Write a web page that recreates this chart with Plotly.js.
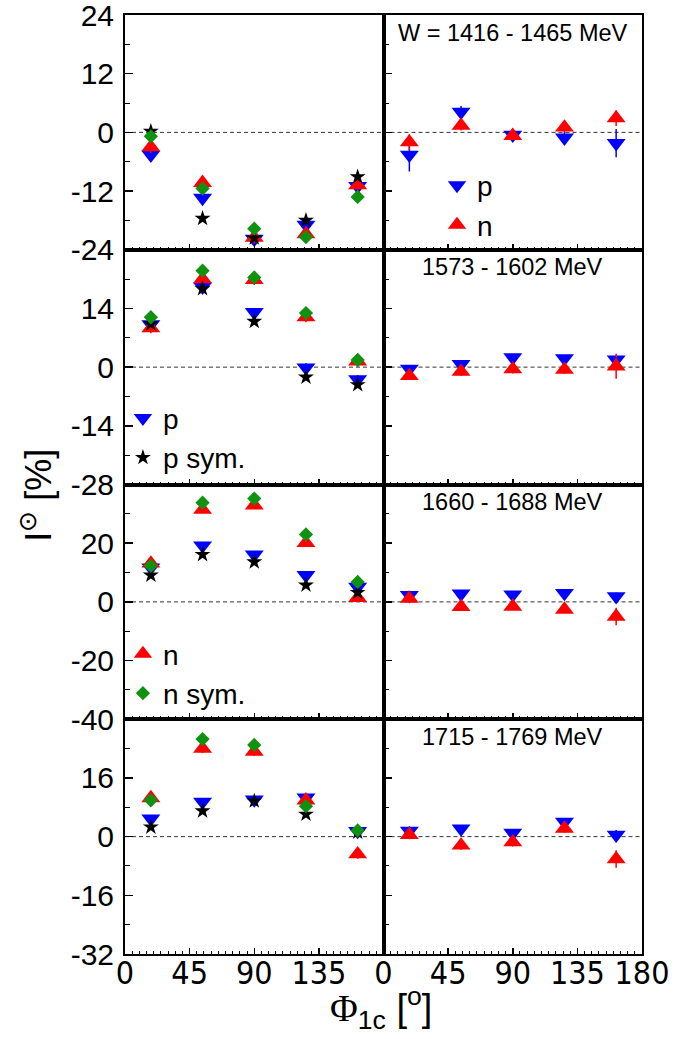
<!DOCTYPE html>
<html>
<head>
<meta charset="utf-8">
<script src="https://cdn.plot.ly/plotly-3.0.1.min.js"></script>
<style>
  html, body { margin: 0; padding: 0; background: #fff; }
  #chart { width: 696px; height: 1039px; }
</style>
</head>
<body>
<div id="chart"></div>
<script>
// Azimuthal angle bins (degrees)
const PHI = [18, 54, 90, 126, 162];

// Energy bin labels (right column)
const BIN_LABELS = ['W = 1416 - 1465 MeV', '1573 - 1602 MeV', '1660 - 1688 MeV', '1715 - 1769 MeV'];

// Left column: p, p sym., n, n sym. (one array per energy bin)
const leftP_1 = [-4.6, -13.4, -21.8, -18.9, -11.0];
const leftN_1 = [-3.0, -10.3, -21.5, -20.8, -10.8];
const leftPSym_1 = [0.2, -17.6, -21.6, -18.0, -9.1];
const leftNSym_1 = [-0.8, -11.5, -19.7, -21.4, -13.2];

const leftP_2 = [10.2, 19.2, 13.1, -0.1, -2.9];
const leftN_2 = [9.3, 21.0, 20.8, 11.9, 1.4];
const leftPSym_2 = [10.3, 18.7, 10.9, -2.4, -4.2];
const leftNSym_2 = [11.9, 23.0, 21.4, 12.9, 1.7];

const leftP_3 = [11.7, 19.2, 16.1, 9.1, 5.1];
const leftN_3 = [13.1, 31.4, 32.9, 20.1, 1.4];
const leftPSym_3 = [9.1, 16.1, 13.6, 5.7, 3.2];
const leftNSym_3 = [12.3, 33.8, 35.2, 23.0, 6.8];

const leftP_4 = [4.9, 9.5, 10.1, 10.6, 1.5];
const leftN_4 = [10.5, 24.0, 23.2, 9.9, -4.8];
const leftPSym_4 = [2.6, 7.0, 9.7, 6.1, 1.2];
const leftNSym_4 = [9.9, 26.6, 25.0, 8.3, 1.7];

// Left column uncertainties
const leftErrP = [1.0, 1.0, 1.0, 1.0, 1.0];
const leftErrN = [1.2, 1.2, 1.2, 1.2, 1.2];

// Right column: p and n
const rightP_1 = [-4.6, 4.2, -0.5, -1.1, -2.2];
const rightN_1 = [-2.0, 1.4, -0.7, 1.0, 2.9];
const rightErrP_1 = [3.4, 1.2, 1.0, 1.2, 2.9];
const rightErrN_1 = [1.6, 1.0, 0.8, 1.0, 1.6];

const rightP_2 = [-0.4, 0.7, 2.3, 2.1, 1.8];
const rightN_2 = [-2.1, -1.1, -0.5, -0.6, 0.2];
const rightErrP_2 = [0.8, 0.8, 0.8, 0.8, 1.0];
const rightErrN_2 = [1.0, 1.0, 1.0, 1.0, 3.0];

const rightP_3 = [2.3, 2.8, 2.5, 3.0, 1.9];
const rightN_3 = [1.1, -1.7, -1.6, -2.6, -5.0];
const rightErrP_3 = [1.5, 1.0, 1.0, 1.0, 1.2];
const rightErrN_3 = [1.2, 1.2, 1.2, 1.2, 3.0];

const rightP_4 = [1.6, 2.2, 1.0, 4.0, 0.5];
const rightN_4 = [0.5, -2.4, -1.5, 2.2, -6.1];
const rightErrP_4 = [1.2, 1.0, 1.0, 1.0, 1.3];
const rightErrN_4 = [1.2, 1.2, 1.2, 1.2, 2.4];

// Y-axis half ranges and tick labels for each row
const Y_RANGE = [24, 28, 40, 32];
const Y_TICKS_1 = [-24, -12, 0, 12, 24];
const Y_TICKS_2 = [-28, -14, 0, 14];
const Y_TICKS_3 = [-40, -20, 0, 20];
const Y_TICKS_4 = [-32, -16, 0, 16];
const Y_TICKTEXT_1 = ['-24', '-12', '0', '12', '24'];
const Y_TICKTEXT_2 = ['-28', '-14', '0', '14'];
const Y_TICKTEXT_3 = ['-40', '-20', '0', '20'];
const Y_TICKTEXT_4 = ['-32', '-16', '0', '16'];
const X_TICKS_LEFT = [0, 45, 90, 135];
const X_TICKS_RIGHT = [0, 45, 90, 135, 180];

const LEFT = [
  {p: leftP_1, n: leftN_1, ps: leftPSym_1, ns: leftNSym_1},
  {p: leftP_2, n: leftN_2, ps: leftPSym_2, ns: leftNSym_2},
  {p: leftP_3, n: leftN_3, ps: leftPSym_3, ns: leftNSym_3},
  {p: leftP_4, n: leftN_4, ps: leftPSym_4, ns: leftNSym_4}
];
const RIGHT = [
  {p: rightP_1, n: rightN_1, ep: rightErrP_1, en: rightErrN_1},
  {p: rightP_2, n: rightN_2, ep: rightErrP_2, en: rightErrN_2},
  {p: rightP_3, n: rightN_3, ep: rightErrP_3, en: rightErrN_3},
  {p: rightP_4, n: rightN_4, ep: rightErrP_4, en: rightErrN_4}
];
const Y_TICKS = [Y_TICKS_1, Y_TICKS_2, Y_TICKS_3, Y_TICKS_4];
const Y_TICKTEXT = [Y_TICKTEXT_1, Y_TICKTEXT_2, Y_TICKTEXT_3, Y_TICKTEXT_4];

const BLUE = '#0000ff', RED = '#ff0000', GREEN = '#0f920f', BLACK = '#000000';
const SANS = '"Liberation Sans", Arial, sans-serif';
const NARROW = '"Liberation Sans Narrow", "Arial Narrow", "DejaVu Sans Condensed", sans-serif';
const TRI = 16.5;

function series(x, y, err, color, symbol, size, xa, ya, name, legend) {
  const t = {
    x: x, y: y, type: 'scatter', mode: 'markers',
    xaxis: xa, yaxis: ya, name: name,
    marker: {color: color, symbol: symbol, size: size, line: {width: 0}},
    showlegend: !!legend, hoverinfo: 'skip'
  };
  if (err) t.error_y = {type: 'data', array: err, visible: true, color: color, thickness: 1.5, width: 0};
  if (legend) { t.legend = legend; t.legendgroup = legend + name; }
  return t;
}

const traces = [];
const layout = {
  width: 696, height: 1039,
  margin: {l: 125, r: 54, t: 15, b: 85},
  paper_bgcolor: '#ffffff', plot_bgcolor: '#ffffff',
  font: {family: SANS, color: '#000'},
  shapes: [], annotations: []
};

for (let r = 0; r < 4; r++) {
  for (let c = 0; c < 2; c++) {
    const k = r * 2 + c + 1;
    const xa = k === 1 ? 'x' : 'x' + k;
    const ya = k === 1 ? 'y' : 'y' + k;
    const xKey = k === 1 ? 'xaxis' : 'xaxis' + k;
    const yKey = k === 1 ? 'yaxis' : 'yaxis' + k;

    layout[xKey] = {
      domain: c === 0 ? [0, 0.5] : [0.5, 1],
      anchor: ya, range: [0, 180],
      showline: true, linecolor: '#000', linewidth: 2, mirror: true,
      showgrid: false, zeroline: false,
      ticks: 'inside', ticklen: 6, tickwidth: 1.5, tickcolor: '#000',
      tickmode: 'array', tickvals: c === 0 ? X_TICKS_LEFT : X_TICKS_RIGHT,
      showticklabels: r === 3, ticklabelstandoff: -10, ticklabeloverflow: 'allow',
      tickfont: {family: NARROW, size: 32, color: '#000'},
      minor: {dtick: 5, tick0: 0, ticks: 'inside', ticklen: 3, tickwidth: 1, tickcolor: '#000', showgrid: false},
      fixedrange: true
    };
    layout[yKey] = {
      domain: [(3 - r) / 4, (4 - r) / 4],
      anchor: xa, range: [-Y_RANGE[r], Y_RANGE[r]],
      showline: true, linecolor: '#000', linewidth: 2, mirror: true,
      showgrid: false, zeroline: false,
      ticks: 'inside', ticklen: 8, tickwidth: 1.5, tickcolor: '#000',
      tickmode: 'array', tickvals: Y_TICKS[r], ticktext: Y_TICKTEXT[r],
      showticklabels: c === 0, ticklabelstandoff: 3, ticklabeloverflow: 'allow',
      tickfont: {family: SANS, size: 30, color: '#000'},
      minor: {dtick: Y_RANGE[r] / 4, tick0: 0, ticks: 'inside', ticklen: 5, tickwidth: 1, tickcolor: '#000', showgrid: false},
      fixedrange: true
    };

    // dashed zero reference line
    layout.shapes.push({
      type: 'line', xref: xa, yref: ya, x0: 0, x1: 180, y0: 0, y1: 0,
      line: {color: '#333', width: 1, dash: '4px,3px'}, layer: 'below'
    });

    if (c === 0) {
      const d = LEFT[r];
      const legP = r === 1 ? 'legend2' : null;
      const legN = r === 2 ? 'legend3' : null;
      traces.push(series(PHI, d.p, leftErrP, BLUE, 'triangle-down', TRI, xa, ya, 'p', legP));
      traces.push(series(PHI, d.n, leftErrN, RED, 'triangle-up', TRI, xa, ya, 'n', legN));
      traces.push(series(PHI, d.ps, null, BLACK, 'star', 12, xa, ya, 'p sym.', legP));
      traces.push(series(PHI, d.ns, null, GREEN, 'diamond', 11, xa, ya, 'n sym.', legN));
    } else {
      const d = RIGHT[r];
      const leg = r === 0 ? 'legend' : null;
      traces.push(series(PHI, d.p, d.ep, BLUE, 'triangle-down', TRI, xa, ya, 'p', leg));
      traces.push(series(PHI, d.n, d.en, RED, 'triangle-up', TRI, xa, ya, 'n', leg));
      layout.annotations.push({
        text: BIN_LABELS[r], showarrow: false,
        xref: xa + ' domain', yref: ya + ' domain', x: 0.5, y: 0.925,
        xanchor: 'center', yanchor: 'middle',
        font: {family: SANS, size: 23.5, color: '#000'}
      });
    }
  }
}

const legendStyle = {
  bgcolor: 'rgba(0,0,0,0)', borderwidth: 0,
  font: {family: SANS, size: 28, color: '#000'},
  xanchor: 'left', yanchor: 'top', tracegroupgap: 0, itemwidth: 30
};
layout.legend = Object.assign({}, legendStyle, {x: 0.6035, y: 0.845});
layout.legend2 = Object.assign({}, legendStyle, {x: -0.004, y: 0.597});
layout.legend3 = Object.assign({}, legendStyle, {x: -0.004, y: 0.346});

// axis titles
layout.annotations.push({
  text: 'I<sup>⊙</sup> [%]', showarrow: false, textangle: -90,
  xref: 'paper', yref: 'paper', x: -0.172, y: 0.488,
  xanchor: 'center', yanchor: 'middle',
  font: {family: SANS, size: 36, color: '#000'}
});
layout.annotations.push({
  text: '<span style="font-family:\'Liberation Serif\', serif">Φ</span><sub>1c</sub> [<sup>o</sup>]',
  showarrow: false,
  xref: 'paper', yref: 'paper', x: 0.495, y: -0.058,
  xanchor: 'center', yanchor: 'middle',
  font: {family: SANS, size: 38, color: '#000'}
});

Plotly.newPlot('chart', traces, layout, {displayModeBar: false, staticPlot: true});
</script>
</body>
</html>
